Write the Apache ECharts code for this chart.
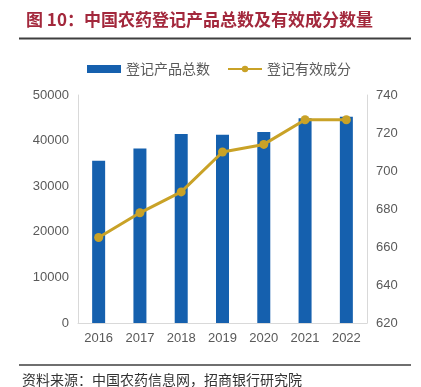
<!DOCTYPE html>
<html><head><meta charset="utf-8">
<script src="https://cdn.jsdelivr.net/npm/echarts@6/dist/echarts.min.js"></script>
<style>html,body{margin:0;padding:0;background:#fff}#c{width:421px;height:387px}</style>
</head><body><div id="c"></div>
<script>
const categories = ['2016','2017','2018','2019','2020','2021','2022'];
const totalProducts = [35600, 38250, 41450, 41270, 41900, 44900, 45250];
const activeIngredients = [665, 678, 689, 710, 714, 727, 727];
const leftTicks = [0, 10000, 20000, 30000, 40000, 50000];
const rightTicks = [620, 640, 660, 680, 700, 720, 740];
const titleText = '图 10：中国农药登记产品总数及有效成分数量';
const sourceText = '资料来源：中国农药信息网，招商银行研究院';
const seriesNames = ['登记产品总数', '登记有效成分'];

const chart = echarts.init(document.getElementById('c'));
const cjk = '"Noto Sans CJK SC", sans-serif';
const num = 'Liberation Sans, Arial, sans-serif';
chart.setOption({
  animation: false,
  title: {
    text: titleText, left: 21, top: 6,
    textStyle: {fontFamily: cjk, fontSize: 17, fontWeight: 'bold', color: '#A3283C'}
  },
  legend: {
    top: 57, left: 82, itemGap: 17, itemWidth: 34, itemHeight: 8,
    textStyle: {fontFamily: cjk, fontSize: 14, color: '#595959'},
    data: [
      {name: seriesNames[0], icon: 'rect'},
      {name: seriesNames[1]}
    ]
  },
  grid: {left: 78, right: 54, top: 95, bottom: 64},
  xAxis: {
    type: 'category', data: categories,
    axisLine: {lineStyle: {color: '#D9D9D9'}},
    axisTick: {show: false},
    axisLabel: {color: '#595959', fontSize: 13, fontFamily: num, margin: 9}
  },
  yAxis: [
    {type: 'value', min: leftTicks[0], max: leftTicks[leftTicks.length-1], interval: 10000,
     axisLine: {show: true, lineStyle: {color: '#D9D9D9'}}, axisTick: {show: false},
     splitLine: {show: false},
     axisLabel: {color: '#595959', fontSize: 13, fontFamily: num, margin: 9, formatter: v => String(v)}},
    {type: 'value', min: rightTicks[0], max: rightTicks[rightTicks.length-1], interval: 20,
     axisLine: {show: true, lineStyle: {color: '#D9D9D9'}}, axisTick: {show: false},
     splitLine: {show: false},
     axisLabel: {color: '#595959', fontSize: 13, fontFamily: num, margin: 9, formatter: v => String(v)}}
  ],
  series: [
    {name: seriesNames[0], type: 'bar', data: totalProducts, barWidth: 13,
     itemStyle: {color: '#1560AE'}},
    {name: seriesNames[1], type: 'line', yAxisIndex: 1, data: activeIngredients,
     symbol: 'circle', symbolSize: 9,
     lineStyle: {color: '#C9A227', width: 3}, itemStyle: {color: '#C9A227'}}
  ],
  graphic: [
    {type: 'line', shape: {x1: 19, y1: 38.5, x2: 411, y2: 38.5}, style: {stroke: '#3F3F3F', lineWidth: 2}},
    {type: 'line', shape: {x1: 19, y1: 365, x2: 411, y2: 365}, style: {stroke: '#3F3F3F', lineWidth: 1.5}},
    {type: 'text', left: 22, top: 373, style: {text: sourceText, fill: '#333', font: '14px "Noto Sans CJK SC", sans-serif'}}
  ]
});
</script></body></html>
